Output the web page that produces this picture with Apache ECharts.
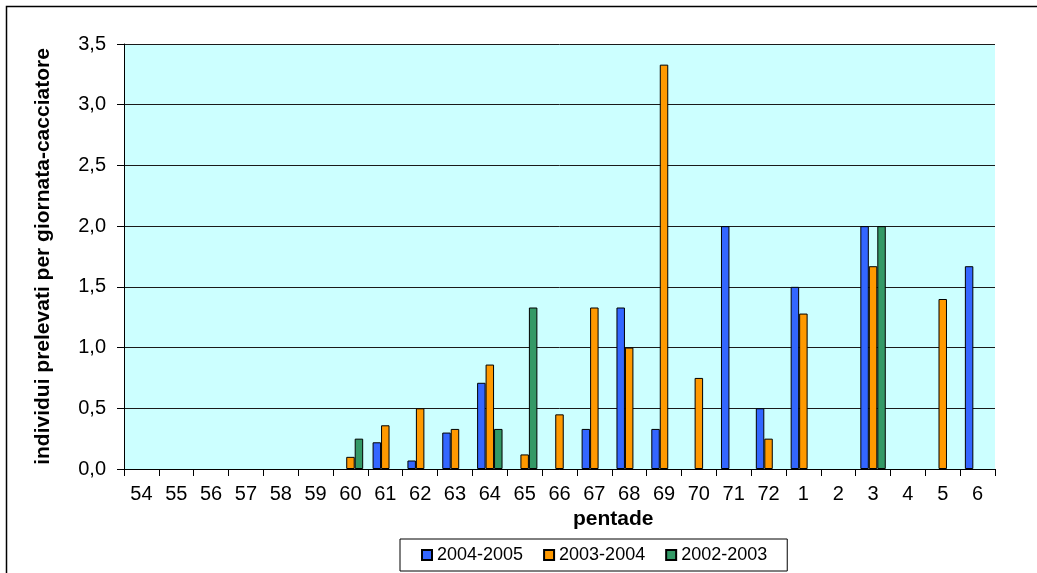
<!DOCTYPE html>
<html>
<head>
<meta charset="utf-8">
<title>pentade</title>
<script src="https://cdn.jsdelivr.net/npm/echarts@6/dist/echarts.min.js"></script>
<style>
  html, body { margin: 0; padding: 0; background: #fff; }
  #chart { width: 1037px; height: 573px; }
</style>
</head>
<body>
<div id="chart"></div>
<script>
// pentadi (stagione venatoria: 54..72 poi 1..6)
const categories = ['54', '55', '56', '57', '58', '59', '60', '61', '62', '63', '64', '65', '66',
  '67', '68', '69', '70', '71', '72', '1', '2', '3', '4', '5', '6'];

const seasons = ['2004-2005', '2003-2004', '2002-2003'];

const values2004 = [null, null, null, null, null, null, null, 0.22, 0.07, 0.30, 0.71, null, null,
  0.33, 1.33, 0.33, null, 2.0, 0.5, 1.5, null, 2.0, null, null, 1.67];
const values2003 = [null, null, null, null, null, null, 0.1, 0.36, 0.5, 0.33, 0.86, 0.12, 0.45,
  1.33, 1.0, 3.33, 0.75, null, 0.25, 1.28, null, 1.67, null, 1.40, null];
const values2002 = [null, null, null, null, null, null, 0.25, null, null, null, 0.33, 1.33, null,
  null, null, null, null, null, null, null, null, 2.0, null, null, null];

const yTicks = [0, 0.5, 1, 1.5, 2, 2.5, 3, 3.5];

const colors = ['#3366FF', '#FF9900', '#339966'];
const font = 'Arial, "Liberation Sans", sans-serif';

let chart = echarts.init(document.getElementById('chart'), null, { renderer: 'canvas' });

let makeSeries = (name, data, i) => {
  return {
    name: name,
    type: 'bar',
    data: data,
    barGap: '0%',
    barCategoryGap: '27%',
    itemStyle: { color: colors[i], borderColor: '#000', borderWidth: 1 },
    animation: false
  };
};

let option = {
  animation: false,
  textStyle: { fontFamily: font },
  grid: { left: 124, right: 42, top: 44, bottom: 104, show: true, backgroundColor: '#CCFFFF', borderWidth: 0 },
  legend: {
    data: seasons,
    left: 400,
    top: 539,
    icon: 'rect',
    itemWidth: 10,
    itemHeight: 10,
    itemGap: 20,
    padding: [7, 20, 7, 21],
    borderColor: '#000',
    borderWidth: 1,
    borderRadius: 0,
    textStyle: { fontFamily: font, fontSize: 18, color: '#000' }
  },
  xAxis: {
    type: 'category',
    data: categories,
    axisLine: { lineStyle: { color: '#000', width: 1 } },
    axisTick: { show: true, length: 7, lineStyle: { color: '#000' } },
    axisLabel: { color: '#000', fontSize: 20, fontFamily: font, margin: 15, interval: 0 },
    splitLine: { show: false }
  },
  yAxis: {
    type: 'value',
    min: yTicks[0],
    max: yTicks[yTicks.length - 1],
    interval: 0.5,
    name: 'individui prelevati per giornata-cacciatore',
    nameLocation: 'middle',
    nameRotate: 90,
    nameGap: 70,
    nameTextStyle: { fontFamily: font, fontSize: 21, fontWeight: 'bold', color: '#000' },
    axisLine: { show: true, lineStyle: { color: '#000', width: 1 } },
    axisTick: { show: true, length: 7, lineStyle: { color: '#000' } },
    axisLabel: {
      color: '#000', fontSize: 20, fontFamily: font, margin: 18,
      formatter: v => v.toFixed(1).replace('.', ',')
    },
    splitLine: { show: true, lineStyle: { color: '#1a1a1a', width: 1 } }
  },
  graphic: [
    {
      // cornice esterna
      type: 'rect',
      shape: { x: 6.5, y: 6.5, width: 1100, height: 700 },
      style: { fill: 'none', stroke: '#000', lineWidth: 1.5 },
      z: -10
    },
    {
      type: 'text',
      left: 573,
      top: 509,
      style: { text: 'pentade', fontFamily: font, fontSize: 21, fontWeight: 'bold', fill: '#000' }
    }
  ],
  series: [
    makeSeries(seasons[0], values2004, 0),
    makeSeries(seasons[1], values2003, 1),
    makeSeries(seasons[2], values2002, 2)
  ]
};

chart.setOption(option);
</script>
</body>
</html>
